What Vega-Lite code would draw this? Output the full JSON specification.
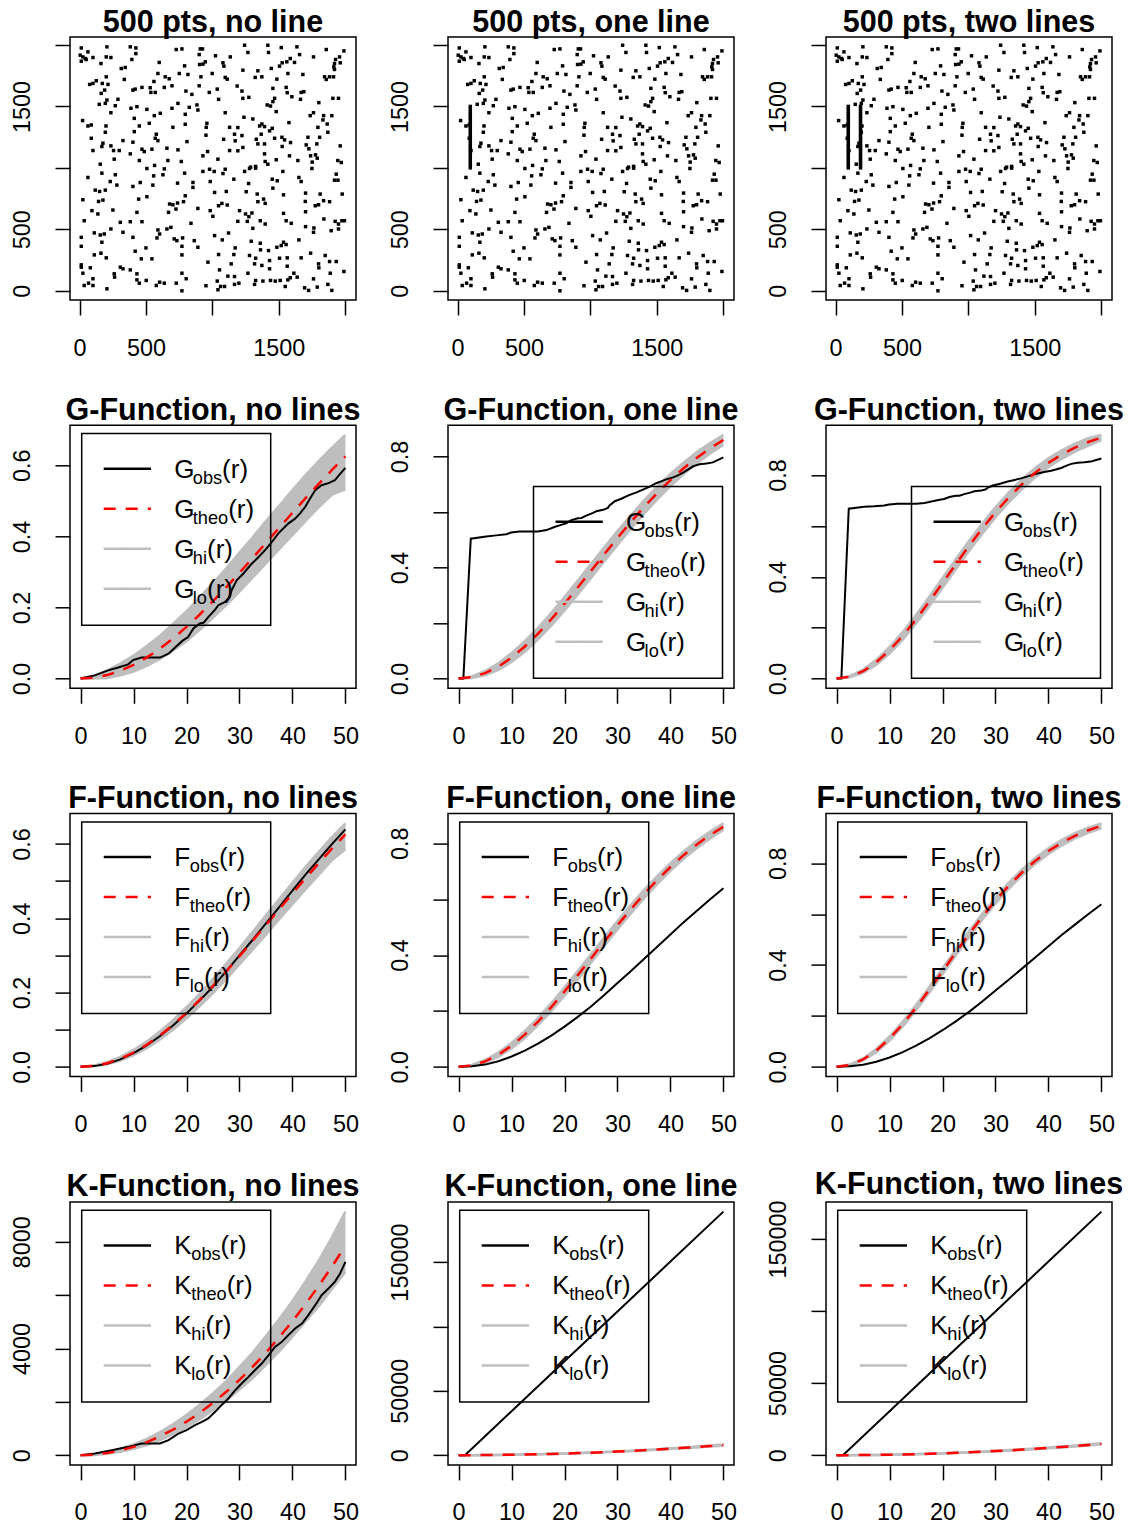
{
"$schema":"https://vega.github.io/schema/vega-lite/v6.json",
"padding":{"left":9,"top":6,"right":5,"bottom":0},
"background":"white",
"config":{
 "view":{"stroke":"black","strokeWidth":1.5},
 "font":"Liberation Sans",
 "axis":{"domain":false,"grid":false,"tickSize":15,"tickColor":"black","tickWidth":1.5,"labelFont":"Liberation Sans","labelFontSize":23.4,"labelColor":"black","labelOverlap":false,"labelFlush":false,"labelBound":false},
 "axisX":{"labelAngle":0,"labelBaseline":"alphabetic","labelAlign":"center","labelPadding":40},
 "axisY":{"labelAngle":-90,"labelBaseline":"alphabetic","labelAlign":"center","labelPadding":26},
 "title":{"font":"Liberation Sans","fontSize":30.5,"fontWeight":"bold","color":"black","anchor":"middle","frame":"group","baseline":"alphabetic","offset":-1},
 "text":{"font":"Liberation Sans","color":"black"}
},
"datasets":{
 "leg":[{"i":0,"k":"obs"},{"i":1,"k":"theo"},{"i":2,"k":"hi"},{"i":3,"k":"lo"}],
 "pts":[
{"x":13,"y":1976},{"x":206,"y":1985},{"x":382,"y":1985},{"x":424,"y":1976},{"x":63,"y":1944},{"x":5,"y":1917},{"x":424,"y":1930},{"x":25,"y":1903},{"x":43,"y":1890},{"x":50,"y":1882},{"x":13,"y":1868},{"x":101,"y":1898},{"x":201,"y":1903},{"x":236,"y":1898},{"x":394,"y":1882},{"x":161,"y":1849},{"x":728,"y":1963},{"x":771,"y":1968},{"x":909,"y":1968},{"x":926,"y":1968},{"x":901,"y":1922},{"x":600,"y":1858},{"x":791,"y":1830},{"x":947,"y":1863},{"x":929,"y":1844},{"x":904,"y":1841},{"x":314,"y":1809},{"x":344,"y":1817},{"x":590,"y":1768},{"x":645,"y":1741},{"x":675,"y":1725},{"x":751,"y":1768},{"x":816,"y":1760},{"x":914,"y":1741},{"x":201,"y":1741},{"x":337,"y":1720},{"x":126,"y":1709},{"x":101,"y":1687},{"x":76,"y":1679},{"x":171,"y":1687},{"x":214,"y":1679},{"x":560,"y":1703},{"x":901,"y":1668},{"x":696,"y":1668},{"x":189,"y":1633},{"x":163,"y":1606},{"x":402,"y":1633},{"x":419,"y":1641},{"x":470,"y":1655},{"x":532,"y":1652},{"x":537,"y":1614},{"x":570,"y":1614},{"x":638,"y":1655},{"x":801,"y":1625},{"x":846,"y":1598},{"x":977,"y":1614},{"x":206,"y":1552},{"x":289,"y":1558},{"x":148,"y":1517},{"x":194,"y":1525},{"x":269,"y":1506},{"x":741,"y":1525},{"x":387,"y":1485},{"x":432,"y":1498},{"x":507,"y":1476},{"x":696,"y":1485},{"x":826,"y":1493},{"x":884,"y":1512},{"x":891,"y":1471},{"x":236,"y":1449},{"x":563,"y":1425},{"x":608,"y":1444},{"x":796,"y":1436},{"x":412,"y":1403},{"x":23,"y":1385},{"x":63,"y":1341},{"x":88,"y":1349},{"x":199,"y":1341},{"x":450,"y":1341},{"x":525,"y":1363},{"x":703,"y":1330},{"x":796,"y":1355},{"x":959,"y":1363},{"x":954,"y":1330},{"x":194,"y":1290},{"x":412,"y":1295},{"x":578,"y":1274},{"x":570,"y":1241},{"x":590,"y":1222},{"x":952,"y":1266},{"x":88,"y":1241},{"x":327,"y":1222},{"x":402,"y":1209},{"x":809,"y":1214},{"x":176,"y":1201},{"x":168,"y":1174},{"x":236,"y":1179},{"x":101,"y":1141},{"x":256,"y":1141},{"x":299,"y":1141},{"x":382,"y":1114},{"x":470,"y":1152},{"x":487,"y":1133},{"x":545,"y":1152},{"x":658,"y":1160},{"x":741,"y":1147},{"x":964,"y":1133},{"x":929,"y":1098},{"x":261,"y":1071},{"x":450,"y":1060},{"x":665,"y":1060},{"x":766,"y":1052},{"x":156,"y":1030},{"x":565,"y":1020},{"x":638,"y":992},
{"x":1243,"y":1998},{"x":1268,"y":1939},{"x":1418,"y":1998},{"x":1423,"y":1939},{"x":1519,"y":1979},{"x":1637,"y":1985},{"x":1657,"y":1922},{"x":1858,"y":1963},{"x":1991,"y":1952},{"x":1024,"y":1912},{"x":1135,"y":1903},{"x":1080,"y":1855},{"x":1087,"y":1828},{"x":999,"y":1768},{"x":1230,"y":1795},{"x":1343,"y":1790},{"x":1444,"y":1809},{"x":1506,"y":1828},{"x":1526,"y":1855},{"x":1561,"y":1863},{"x":1587,"y":1890},{"x":1619,"y":1858},{"x":1486,"y":1722},{"x":1569,"y":1768},{"x":1682,"y":1760},{"x":1762,"y":1903},{"x":1958,"y":1903},{"x":1928,"y":1882},{"x":1920,"y":1849},{"x":1915,"y":1822},{"x":1920,"y":1801},{"x":1963,"y":1855},{"x":1097,"y":1736},{"x":1112,"y":1722},{"x":1323,"y":1736},{"x":1373,"y":1741},{"x":1845,"y":1741},{"x":1858,"y":1720},{"x":1883,"y":1741},{"x":1913,"y":1741},{"x":1037,"y":1641},{"x":1187,"y":1666},{"x":1223,"y":1625},{"x":1456,"y":1647},{"x":1556,"y":1655},{"x":1564,"y":1612},{"x":1599,"y":1579},{"x":1669,"y":1614},{"x":1689,"y":1620},{"x":1664,"y":1558},{"x":1047,"y":1558},{"x":1230,"y":1566},{"x":1275,"y":1574},{"x":1469,"y":1566},{"x":1456,"y":1539},{"x":1438,"y":1503},{"x":1413,"y":1512},{"x":1802,"y":1531},{"x":1908,"y":1566},{"x":1950,"y":1566},{"x":1097,"y":1449},{"x":1238,"y":1412},{"x":1305,"y":1398},{"x":1481,"y":1458},{"x":1737,"y":1425},{"x":1762,"y":1449},{"x":1838,"y":1425},{"x":1900,"y":1425},{"x":1833,"y":1390},{"x":1577,"y":1368},{"x":1130,"y":1330},{"x":1192,"y":1328},{"x":1356,"y":1341},{"x":1373,"y":1357},{"x":1393,"y":1336},{"x":1431,"y":1301},{"x":1451,"y":1322},{"x":1795,"y":1330},{"x":1865,"y":1357},{"x":1167,"y":1274},{"x":1223,"y":1263},{"x":1172,"y":1220},{"x":1368,"y":1274},{"x":1469,"y":1241},{"x":1524,"y":1249},{"x":1544,"y":1228},{"x":1589,"y":1206},{"x":1720,"y":1249},{"x":1808,"y":1249},{"x":1787,"y":1195},{"x":1870,"y":1290},{"x":1085,"y":1233},{"x":1331,"y":1233},{"x":1343,"y":1195},{"x":1393,"y":1195},{"x":1230,"y":1166},{"x":1192,"y":1139},{"x":1130,"y":1141},{"x":1526,"y":1174},{"x":1707,"y":1187},{"x":1727,"y":1155},{"x":1963,"y":1179},{"x":1393,"y":1114},{"x":1581,"y":1098},{"x":1740,"y":1098},{"x":1777,"y":1106},{"x":1790,"y":1079},{"x":1042,"y":1071},{"x":1398,"y":1052},{"x":1418,"y":1030},{"x":1481,"y":1066},{"x":1644,"y":1060},{"x":1752,"y":1047},{"x":1945,"y":1060},{"x":1971,"y":1044},{"x":1288,"y":1006},{"x":1326,"y":1012},
{"x":63,"y":922},{"x":168,"y":957},{"x":269,"y":944},{"x":507,"y":995},{"x":558,"y":935},{"x":628,"y":944},{"x":791,"y":957},{"x":929,"y":971},{"x":979,"y":989},{"x":1014,"y":971},{"x":231,"y":889},{"x":281,"y":860},{"x":402,"y":849},{"x":457,"y":881},{"x":552,"y":860},{"x":738,"y":876},{"x":854,"y":881},{"x":854,"y":841},{"x":984,"y":889},{"x":118,"y":819},{"x":151,"y":808},{"x":194,"y":819},{"x":25,"y":741},{"x":143,"y":727},{"x":176,"y":738},{"x":445,"y":746},{"x":507,"y":765},{"x":796,"y":773},{"x":783,"y":725},{"x":738,"y":714},{"x":678,"y":706},{"x":703,"y":700},{"x":726,"y":665},{"x":93,"y":652},{"x":138,"y":625},{"x":251,"y":657},{"x":432,"y":638},{"x":670,"y":638},{"x":891,"y":670},{"x":984,"y":652},{"x":1004,"y":606},{"x":35,"y":570},{"x":307,"y":557},{"x":382,"y":562},{"x":470,"y":562},{"x":839,"y":549},{"x":236,"y":503},{"x":111,"y":471},{"x":156,"y":454},{"x":186,"y":462},{"x":327,"y":476},{"x":590,"y":495},{"x":603,"y":462},{"x":658,"y":503},{"x":688,"y":516},{"x":13,"y":435},{"x":168,"y":395},{"x":402,"y":435},{"x":583,"y":430},{"x":713,"y":422},{"x":733,"y":408},{"x":776,"y":430},{"x":864,"y":408},{"x":891,"y":354},{"x":13,"y":362},{"x":771,"y":362},{"x":500,"y":349},{"x":419,"y":322},{"x":111,"y":292},{"x":161,"y":306},{"x":201,"y":268},{"x":465,"y":260},{"x":545,"y":260},{"x":771,"y":292},{"x":967,"y":233},{"x":13,"y":211},{"x":13,"y":192},{"x":81,"y":187},{"x":307,"y":192},{"x":327,"y":179},{"x":382,"y":170},{"x":25,"y":143},{"x":261,"y":138},{"x":264,"y":111},{"x":432,"y":138},{"x":771,"y":143},{"x":101,"y":98},{"x":68,"y":62},{"x":101,"y":43},{"x":35,"y":43},{"x":432,"y":89},{"x":450,"y":62},{"x":502,"y":84},{"x":578,"y":43},{"x":603,"y":70},{"x":638,"y":62},{"x":728,"y":62},{"x":803,"y":98},{"x":206,"y":16},{"x":952,"y":41},{"x":771,"y":0},
{"x":1080,"y":954},{"x":1097,"y":989},{"x":1243,"y":971},{"x":1280,"y":995},{"x":1326,"y":998},{"x":1531,"y":971},{"x":1750,"y":995},{"x":1162,"y":908},{"x":1273,"y":873},{"x":1451,"y":908},{"x":1489,"y":895},{"x":1652,"y":922},{"x":1669,"y":889},{"x":1933,"y":949},{"x":1920,"y":900},{"x":1946,"y":900},{"x":1456,"y":835},{"x":1017,"y":800},{"x":1105,"y":808},{"x":1255,"y":806},{"x":1338,"y":787},{"x":1536,"y":781},{"x":1702,"y":795},{"x":1812,"y":787},{"x":1978,"y":787},{"x":1047,"y":692},{"x":1072,"y":711},{"x":1112,"y":698},{"x":1386,"y":746},{"x":1343,"y":725},{"x":1398,"y":711},{"x":1700,"y":727},{"x":1775,"y":692},{"x":1800,"y":700},{"x":1838,"y":733},{"x":1883,"y":725},{"x":1205,"y":652},{"x":1250,"y":625},{"x":1275,"y":603},{"x":1298,"y":633},{"x":1536,"y":630},{"x":1702,"y":643},{"x":1192,"y":565},{"x":1263,"y":565},{"x":1361,"y":570},{"x":1398,"y":543},{"x":1556,"y":570},{"x":1594,"y":549},{"x":1840,"y":584},{"x":1925,"y":565},{"x":1950,"y":543},{"x":1976,"y":570},{"x":1995,"y":570},{"x":1305,"y":508},{"x":1702,"y":522},{"x":1765,"y":511},{"x":1762,"y":476},{"x":1895,"y":489},{"x":1950,"y":503},{"x":1017,"y":449},{"x":1122,"y":470},{"x":1075,"y":414},{"x":1293,"y":403},{"x":1361,"y":387},{"x":1536,"y":395},{"x":1652,"y":414},{"x":1172,"y":349},{"x":1363,"y":333},{"x":1423,"y":327},{"x":1486,"y":354},{"x":1519,"y":368},{"x":1556,"y":376},{"x":1740,"y":306},{"x":1850,"y":287},{"x":1047,"y":295},{"x":1162,"y":295},{"x":1280,"y":287},{"x":1326,"y":265},{"x":1431,"y":246},{"x":1506,"y":265},{"x":1564,"y":268},{"x":1669,"y":268},{"x":1142,"y":219},{"x":1318,"y":219},{"x":1373,"y":206},{"x":1564,"y":200},{"x":1800,"y":219},{"x":1883,"y":238},{"x":1933,"y":238},{"x":1054,"y":170},{"x":1431,"y":179},{"x":1802,"y":187},{"x":1888,"y":143},{"x":1991,"y":157},{"x":1117,"y":119},{"x":1167,"y":116},{"x":1268,"y":143},{"x":1614,"y":143},{"x":1587,"y":106},{"x":1639,"y":111},{"x":1762,"y":97},{"x":1037,"y":79},{"x":1200,"y":62},{"x":1326,"y":84},{"x":1318,"y":52},{"x":1381,"y":79},{"x":1438,"y":84},{"x":1474,"y":79},{"x":1511,"y":84},{"x":1569,"y":89},{"x":1062,"y":35},{"x":1092,"y":35},{"x":1167,"y":52},{"x":1549,"y":35},{"x":1695,"y":24},{"x":1725,"y":3},{"x":1790,"y":30},{"x":1870,"y":52},{"x":1900,"y":3},{"x":1042,"y":8}
 ],
 "ln1":[{"x":96,"y":1000},{"x":96,"y":1020},{"x":96,"y":1040},{"x":96,"y":1060},{"x":96,"y":1080},{"x":96,"y":1100},{"x":96,"y":1120},{"x":96,"y":1140},{"x":96,"y":1160},{"x":96,"y":1180},{"x":96,"y":1200},{"x":96,"y":1220},{"x":96,"y":1240},{"x":96,"y":1260},{"x":96,"y":1280},{"x":96,"y":1300},{"x":96,"y":1320},{"x":96,"y":1340},{"x":96,"y":1360},{"x":96,"y":1380},{"x":96,"y":1400},{"x":96,"y":1420},{"x":96,"y":1440},{"x":96,"y":1460},{"x":96,"y":1480},{"x":96,"y":1500}],
 "ln2":[{"x":188,"y":1000},{"x":188,"y":1020},{"x":188,"y":1040},{"x":188,"y":1060},{"x":188,"y":1080},{"x":188,"y":1100},{"x":188,"y":1120},{"x":188,"y":1140},{"x":188,"y":1160},{"x":188,"y":1180},{"x":188,"y":1200},{"x":188,"y":1220},{"x":188,"y":1240},{"x":188,"y":1260},{"x":188,"y":1280},{"x":188,"y":1300},{"x":188,"y":1320},{"x":188,"y":1340},{"x":188,"y":1360},{"x":188,"y":1380},{"x":188,"y":1400},{"x":188,"y":1420},{"x":188,"y":1440},{"x":188,"y":1460},{"x":188,"y":1480},{"x":188,"y":1500}],
 "env":[
{"r":0,"t1":0,"t2":0,"t3":0,"kt":0,"g1h":0,"g1l":0,"g2h":0,"g2l":0,"g3h":0,"g3l":0,"f1h":0,"f1l":0,"f2h":0,"f2l":0,"f3h":0,"f3l":0,"k1h":0,"k1l":0,"k2h":0,"k2l":0,"fo":0},
{"r":2.5,"t1":0.00245,"t2":0.00489,"t3":0.00733,"kt":19.6,"g1h":0.0085,"g1l":0,"g2h":0.0079,"g2l":0.0019,"g3h":0.0097,"g3l":0.0049,"f1h":0.0035,"f1l":0.0015,"f2h":0.0069,"f2l":0.0029,"f3h":0.0089,"f3l":0.0057,"k1h":29.4,"k1l":10.8,"k2h":20.8,"k2l":18.4,"fo":0.002},
{"r":5,"t1":0.00977,"t2":0.01944,"t3":0.02903,"kt":78.5,"g1h":0.0228,"g1l":0.0018,"g2h":0.0274,"g2l":0.0114,"g3h":0.0354,"g3l":0.0226,"f1h":0.0128,"f1l":0.0068,"f2h":0.0244,"f2l":0.0144,"f3h":0.033,"f3l":0.025,"k1h":110,"k1l":51,"k2h":83.2,"k2l":73.8,"fo":0.008},
{"r":7.5,"t1":0.02185,"t2":0.04322,"t3":0.06412,"kt":176.7,"g1h":0.0419,"g1l":0.0089,"g2h":0.0552,"g2l":0.0312,"g3h":0.0737,"g3l":0.0545,"f1h":0.0269,"f1l":0.0169,"f2h":0.0512,"f2l":0.0352,"f3h":0.0705,"f3l":0.0577,"k1h":233,"k1l":127,"k2h":187.3,"k2l":166.1,"fo":0.02},
{"r":10,"t1":0.03851,"t2":0.07554,"t3":0.1112,"kt":314.2,"g1h":0.0645,"g1l":0.0195,"g2h":0.0915,"g2l":0.0595,"g3h":0.124,"g3l":0.0984,"f1h":0.0455,"f1l":0.0315,"f2h":0.0855,"f2l":0.0655,"f3h":0.1192,"f3l":0.1032,"k1h":402,"k1l":236,"k2h":333,"k2l":295.3,"fo":0.037},
{"r":12.5,"t1":0.05952,"t2":0.1155,"t3":0.16815,"kt":490.9,"g1h":0.0915,"g1l":0.0355,"g2h":0.1345,"g2l":0.0965,"g3h":0.1834,"g3l":0.153,"f1h":0.0685,"f1l":0.0505,"f2h":0.1275,"f2l":0.1035,"f3h":0.1778,"f3l":0.1585,"k1h":614,"k1l":383,"k2h":520.4,"k2l":461.4,"fo":0.058},
{"r":15,"t1":0.08457,"t2":0.16199,"t3":0.23286,"kt":706.9,"g1h":0.1206,"g1l":0.0556,"g2h":0.183,"g2l":0.141,"g3h":0.2497,"g3l":0.2161,"f1h":0.0956,"f1l":0.0736,"f2h":0.175,"f2l":0.149,"f3h":0.2433,"f3l":0.2225,"k1h":869,"k1l":566,"k2h":749.3,"k2l":664.5,"fo":0.083},
{"r":17.5,"t1":0.11331,"t2":0.21378,"t3":0.30287,"kt":962.1,"g1h":0.1543,"g1l":0.0793,"g2h":0.2368,"g2l":0.1908,"g3h":0.3213,"g3l":0.2845,"f1h":0.1263,"f1l":0.1003,"f2h":0.2278,"f2l":0.1998,"f3h":0.3141,"f3l":0.2917,"k1h":1164,"k1l":789,"k2h":1019.8,"k2l":904.4,"fo":0.112},
{"r":20,"t1":0.14536,"t2":0.26959,"t3":0.37578,"kt":1256.6,"g1h":0.1894,"g1l":0.1054,"g2h":0.2936,"g2l":0.2456,"g3h":0.395,"g3l":0.3566,"f1h":0.1604,"f1l":0.1304,"f2h":0.2846,"f2l":0.2546,"f3h":0.3878,"f3l":0.3638,"k1h":1508,"k1l":1056,"k2h":1332,"k2l":1181.2,"fo":0.144},
{"r":22.5,"t1":0.18029,"t2":0.32808,"t3":0.44922,"kt":1590.4,"g1h":0.2293,"g1l":0.1373,"g2h":0.3531,"g2l":0.3031,"g3h":0.4692,"g3l":0.4292,"f1h":0.1973,"f1l":0.1633,"f2h":0.3431,"f2l":0.3131,"f3h":0.4612,"f3l":0.4372,"k1h":1893,"k1l":1352,"k2h":1685.8,"k2l":1495,"fo":0.179},
{"r":25,"t1":0.21766,"t2":0.38794,"t3":0.52116,"kt":1963.5,"g1h":0.2687,"g1l":0.1717,"g2h":0.4129,"g2l":0.3629,"g3h":0.5412,"g3l":0.5012,"f1h":0.2367,"f1l":0.1987,"f2h":0.4029,"f2l":0.3729,"f3h":0.5332,"f3l":0.5092,"k1h":2317,"k1l":1689,"k2h":2081.3,"k2l":1845.7,"fo":0.216},
{"r":27.5,"t1":0.25695,"t2":0.44788,"t3":0.58978,"kt":2375.8,"g1h":0.31,"g1l":0.207,"g2h":0.4729,"g2l":0.4229,"g3h":0.6098,"g3l":0.5698,"f1h":0.278,"f1l":0.236,"f2h":0.4629,"f2l":0.4329,"f3h":0.6018,"f3l":0.5778,"k1h":2780,"k1l":2043,"k2h":2518.3,"k2l":2233.3,"fo":0.257},
{"r":30,"t1":0.29773,"t2":0.50682,"t3":0.65367,"kt":2827.4,"g1h":0.3547,"g1l":0.2447,"g2h":0.5318,"g2l":0.4818,"g3h":0.6737,"g3l":0.6337,"f1h":0.3197,"f1l":0.2757,"f2h":0.5218,"f2l":0.4918,"f3h":0.6657,"f3l":0.6417,"k1h":3308,"k1l":2460,"k2h":2997,"k2l":2657.8,"fo":0.3},
{"r":32.5,"t1":0.33949,"t2":0.56373,"t3":0.71184,"kt":3318.3,"g1h":0.3975,"g1l":0.2845,"g2h":0.5877,"g2l":0.5397,"g3h":0.731,"g3l":0.6926,"f1h":0.3635,"f1l":0.3155,"f2h":0.5787,"f2l":0.5487,"f3h":0.7238,"f3l":0.6998,"k1h":3849,"k1l":2887,"k2h":3517.4,"k2l":3119.2,"fo":0.342},
{"r":35,"t1":0.38189,"t2":0.61794,"t3":0.76378,"kt":3848.5,"g1h":0.4429,"g1l":0.3239,"g2h":0.6419,"g2l":0.5939,"g3h":0.783,"g3l":0.7446,"f1h":0.4079,"f1l":0.3559,"f2h":0.6329,"f2l":0.6029,"f3h":0.7758,"f3l":0.7518,"k1h":4464,"k1l":3387,"k2h":4079.4,"k2l":3617.6,"fo":0.386},
{"r":37.5,"t1":0.42434,"t2":0.66862,"t3":0.80924,"kt":4417.9,"g1h":0.4863,"g1l":0.3643,"g2h":0.6916,"g2l":0.6456,"g3h":0.8276,"g3l":0.7908,"f1h":0.4513,"f1l":0.3973,"f2h":0.6831,"f2l":0.6541,"f3h":0.8212,"f3l":0.7972,"k1h":5103,"k1l":3888,"k2h":4683,"k2l":4152.8,"fo":0.43},
{"r":40,"t1":0.46651,"t2":0.71539,"t3":0.84814,"kt":5026.5,"g1h":0.5305,"g1l":0.4035,"g2h":0.7374,"g2l":0.6934,"g3h":0.8657,"g3l":0.8305,"f1h":0.4955,"f1l":0.4375,"f2h":0.7294,"f2l":0.7014,"f3h":0.8594,"f3l":0.8369,"k1h":5780,"k1l":4448,"k2h":5328.1,"k2l":4724.9,"fo":0.474},
{"r":42.5,"t1":0.50801,"t2":0.75795,"t3":0.88075,"kt":5674.5,"g1h":0.573,"g1l":0.444,"g2h":0.779,"g2l":0.737,"g3h":0.8976,"g3l":0.864,"f1h":0.538,"f1l":0.478,"f2h":0.7714,"f2l":0.7446,"f3h":0.8918,"f3l":0.8697,"k1h":6526,"k1l":5022,"k2h":6015,"k2l":5334,"fo":0.518},
{"r":45,"t1":0.54851,"t2":0.79616,"t3":0.90797,"kt":6361.7,"g1h":0.6125,"g1l":0.4825,"g2h":0.8162,"g2l":0.7762,"g3h":0.924,"g3l":0.892,"f1h":0.5795,"f1l":0.5175,"f2h":0.8092,"f2l":0.7832,"f3h":0.9184,"f3l":0.8976,"k1h":7316,"k1l":5598,"k2h":6743.4,"k2l":5980,"fo":0.559},
{"r":47.5,"t1":0.58773,"t2":0.83003,"t3":0.92993,"kt":7088.2,"g1h":0.6507,"g1l":0.5177,"g2h":0.849,"g2l":0.811,"g3h":0.9451,"g3l":0.9147,"f1h":0.6187,"f1l":0.5567,"f2h":0.8425,"f2l":0.8175,"f3h":0.9401,"f3l":0.9198,"k1h":8187,"k1l":6238,"k2h":7513.5,"k2l":6662.9,"fo":0.6},
{"r":50,"t1":0.62534,"t2":0.85963,"t3":0.94741,"kt":7854,"g1h":0.6853,"g1l":0.5323,"g2h":0.8776,"g2l":0.8416,"g3h":0.9574,"g3l":0.9374,"f1h":0.6553,"f1l":0.5853,"f2h":0.8716,"f2l":0.8476,"f3h":0.957,"f3l":0.9378,"k1h":9134,"k1l":6872,"k2h":8325.2,"k2l":7382.8,"fo":0.639}
 ],
 "g1o":[{"r":0,"v":0},{"r":2.7,"v":0.009},{"r":5.2,"v":0.023},{"r":7.1,"v":0.031},{"r":9,"v":0.04},{"r":9.9,"v":0.052},{"r":11.5,"v":0.059},{"r":15,"v":0.059},{"r":16.6,"v":0.07},{"r":18.1,"v":0.091},{"r":19.2,"v":0.106},{"r":20.3,"v":0.117},{"r":21.3,"v":0.141},{"r":22.5,"v":0.155},{"r":23.2,"v":0.157},{"r":24.1,"v":0.173},{"r":25.4,"v":0.194},{"r":26,"v":0.206},{"r":27.3,"v":0.216},{"r":28.2,"v":0.23},{"r":28.5,"v":0.248},{"r":29.5,"v":0.277},{"r":30.7,"v":0.295},{"r":32.3,"v":0.323},{"r":33.6,"v":0.342},{"r":34.8,"v":0.361},{"r":36.1,"v":0.384},{"r":37.3,"v":0.408},{"r":39.2,"v":0.436},{"r":40.5,"v":0.45},{"r":41.4,"v":0.464},{"r":42.4,"v":0.483},{"r":43.3,"v":0.506},{"r":44.3,"v":0.53},{"r":45.5,"v":0.544},{"r":46.8,"v":0.55},{"r":48,"v":0.558},{"r":49,"v":0.576},{"r":50,"v":0.593}],
 "g2o":[{"r":0,"v":0},{"r":0.9,"v":0},{"r":2.3,"v":0.504},{"r":5.2,"v":0.512},{"r":7.1,"v":0.516},{"r":9,"v":0.52},{"r":9.9,"v":0.526},{"r":11.5,"v":0.53},{"r":15,"v":0.53},{"r":16.6,"v":0.535},{"r":18.1,"v":0.546},{"r":19.2,"v":0.553},{"r":20.3,"v":0.559},{"r":21.3,"v":0.571},{"r":22.5,"v":0.578},{"r":23.2,"v":0.579},{"r":24.1,"v":0.587},{"r":25.4,"v":0.597},{"r":26,"v":0.603},{"r":27.3,"v":0.608},{"r":28.2,"v":0.615},{"r":28.5,"v":0.624},{"r":29.5,"v":0.639},{"r":30.7,"v":0.648},{"r":32.3,"v":0.662},{"r":33.6,"v":0.671},{"r":34.8,"v":0.681},{"r":36.1,"v":0.692},{"r":37.3,"v":0.704},{"r":39.2,"v":0.718},{"r":40.5,"v":0.725},{"r":41.4,"v":0.732},{"r":42.4,"v":0.742},{"r":43.3,"v":0.753},{"r":44.3,"v":0.765},{"r":45.5,"v":0.772},{"r":46.8,"v":0.775},{"r":48,"v":0.779},{"r":49,"v":0.788},{"r":50,"v":0.797}],
 "g3o":[{"r":0,"v":0},{"r":0.9,"v":0},{"r":2.3,"v":0.668},{"r":5.2,"v":0.675},{"r":7.1,"v":0.677},{"r":9,"v":0.68},{"r":9.9,"v":0.684},{"r":11.5,"v":0.687},{"r":15,"v":0.687},{"r":16.6,"v":0.69},{"r":18.1,"v":0.697},{"r":19.2,"v":0.702},{"r":20.3,"v":0.706},{"r":21.3,"v":0.714},{"r":22.5,"v":0.719},{"r":23.2,"v":0.719},{"r":24.1,"v":0.725},{"r":25.4,"v":0.732},{"r":26,"v":0.736},{"r":27.3,"v":0.739},{"r":28.2,"v":0.744},{"r":28.5,"v":0.75},{"r":29.5,"v":0.759},{"r":30.7,"v":0.765},{"r":32.3,"v":0.775},{"r":33.6,"v":0.781},{"r":34.8,"v":0.787},{"r":36.1,"v":0.795},{"r":37.3,"v":0.803},{"r":39.2,"v":0.812},{"r":40.5,"v":0.817},{"r":41.4,"v":0.822},{"r":42.4,"v":0.828},{"r":43.3,"v":0.836},{"r":44.3,"v":0.844},{"r":45.5,"v":0.848},{"r":46.8,"v":0.85},{"r":48,"v":0.853},{"r":49,"v":0.859},{"r":50,"v":0.865}],
 "k1o":[{"r":0,"v":0},{"r":2.7,"v":62},{"r":5.9,"v":187},{"r":9,"v":312},{"r":11.5,"v":437},{"r":15,"v":437},{"r":16.6,"v":562},{"r":18.5,"v":812},{"r":20,"v":937},{"r":21.6,"v":1125},{"r":22.9,"v":1250},{"r":24.1,"v":1375},{"r":25.4,"v":1625},{"r":26.6,"v":1875},{"r":27.9,"v":2125},{"r":29.2,"v":2437},{"r":30.4,"v":2687},{"r":31.7,"v":2937},{"r":32.9,"v":3187},{"r":34.2,"v":3437},{"r":35.5,"v":3750},{"r":36.7,"v":4062},{"r":38,"v":4250},{"r":39.2,"v":4500},{"r":40.5,"v":4750},{"r":41.8,"v":4937},{"r":43,"v":5250},{"r":44.3,"v":5625},{"r":45.5,"v":6000},{"r":46.8,"v":6250},{"r":48,"v":6500},{"r":49,"v":6812},{"r":50,"v":7250}],
 "k2o":[{"r":0,"v":0},{"r":1.2,"v":0},{"r":10,"v":34118},{"r":20,"v":72890},{"r":30,"v":111660},{"r":40,"v":150430},{"r":50,"v":189200}],
 "k3o":[{"r":0,"v":0},{"r":1.2,"v":0},{"r":10,"v":30475},{"r":20,"v":65105},{"r":30,"v":99735},{"r":40,"v":134365},{"r":50,"v":169000}]
},
"columns":3,
"spacing":{"row":125.3,"column":92},
"bounds":"flush",
"concat":[
{"width":286,"height":263,"title":"500 pts, no line","layer":[
 {"data":{"name":"pts"},"mark":{"type":"square","size":12,"color":"black","opacity":1},"encoding":{"x":{"field":"x","type":"quantitative","title":null,"scale":{"domain":[-72,2082],"nice":false,"zero":false},"axis":{"values":[0,500,1000,1500,2000],"format":"d","labelExpr":"datum.value==1000||datum.value==2000?'':datum.label"}},"y":{"field":"y","type":"quantitative","title":null,"scale":{"domain":[-75,2065],"nice":false,"zero":false},"axis":{"values":[0,500,1000,1500,2000],"format":"d","labelExpr":"datum.value==1000||datum.value==2000?'':datum.label"}}}}
]},
{"width":286,"height":263,"title":"500 pts, one line","layer":[
 {"data":{"name":"pts"},"mark":{"type":"square","size":12,"color":"black","opacity":1},"encoding":{"x":{"field":"x","type":"quantitative","title":null,"scale":{"domain":[-72,2082],"nice":false,"zero":false},"axis":{"values":[0,500,1000,1500,2000],"format":"d","labelExpr":"datum.value==1000||datum.value==2000?'':datum.label"}},"y":{"field":"y","type":"quantitative","title":null,"scale":{"domain":[-75,2065],"nice":false,"zero":false},"axis":{"values":[0,500,1000,1500,2000],"format":"d","labelExpr":"datum.value==1000||datum.value==2000?'':datum.label"}}}},
 {"data":{"name":"ln1"},"mark":{"type":"square","size":12,"color":"black","opacity":1},"encoding":{"x":{"field":"x","type":"quantitative","title":null},"y":{"field":"y","type":"quantitative","title":null}}}
]},
{"width":286,"height":263,"title":"500 pts, two lines","layer":[
 {"data":{"name":"pts"},"mark":{"type":"square","size":12,"color":"black","opacity":1},"encoding":{"x":{"field":"x","type":"quantitative","title":null,"scale":{"domain":[-72,2082],"nice":false,"zero":false},"axis":{"values":[0,500,1000,1500,2000],"format":"d","labelExpr":"datum.value==1000||datum.value==2000?'':datum.label"}},"y":{"field":"y","type":"quantitative","title":null,"scale":{"domain":[-75,2065],"nice":false,"zero":false},"axis":{"values":[0,500,1000,1500,2000],"format":"d","labelExpr":"datum.value==1000||datum.value==2000?'':datum.label"}}}},
 {"data":{"name":"ln1"},"mark":{"type":"square","size":12,"color":"black","opacity":1},"encoding":{"x":{"field":"x","type":"quantitative","title":null},"y":{"field":"y","type":"quantitative","title":null}}},
 {"data":{"name":"ln2"},"mark":{"type":"square","size":12,"color":"black","opacity":1},"encoding":{"x":{"field":"x","type":"quantitative","title":null},"y":{"field":"y","type":"quantitative","title":null}}}
]},

{"width":286,"height":263,"title":"G-Function, no lines","resolve":{"scale":{"x":"independent","y":"independent"}},"layer":[
 {"encoding":{"x":{"field":"r","type":"quantitative","title":null,"scale":{"domain":[-2,52],"nice":false,"zero":false},"axis":{"values":[0,10,20,30,40,50]}}},"layer":[
  {"data":{"name":"env"},"mark":{"type":"area","color":"#bebebe","opacity":1},"encoding":{"y":{"field":"g1l","type":"quantitative","title":null,"scale":{"domain":[-0.0274,0.7127],"nice":false,"zero":false},"axis":{"values":[0,0.1,0.2,0.3,0.4,0.5,0.6,0.7],"format":".1f","labelExpr":"indexof(['0.0','0.2','0.4','0.6'],datum.label)>=0?datum.label:''"}},"y2":{"field":"g1h"}}},
  {"data":{"name":"env"},"mark":{"type":"line","color":"#bebebe","strokeWidth":2.5},"encoding":{"y":{"field":"g1h","type":"quantitative","title":null}}},
  {"data":{"name":"env"},"mark":{"type":"line","color":"#bebebe","strokeWidth":2.5},"encoding":{"y":{"field":"g1l","type":"quantitative","title":null}}},
  {"data":{"name":"g1o"},"mark":{"type":"line","color":"black","strokeWidth":2},"encoding":{"y":{"field":"v","type":"quantitative","title":null}}},
  {"data":{"name":"env"},"mark":{"type":"line","color":"red","strokeWidth":2.5,"strokeDash":[12,10]},"encoding":{"y":{"field":"t1","type":"quantitative","title":null}}}
 ]},
 {"data":{"name":"leg"},"layer":[
  {"data":{"values":[{"b":1}]},"mark":{"type":"rect","filled":false,"color":"black","strokeWidth":1.5},"encoding":{"x":{"datum":0,"type":"quantitative","scale":{"domain":[-0.0619,1.4513],"nice":false,"zero":false},"axis":null},"x2":{"datum":1},"y":{"datum":-0.88,"type":"quantitative","scale":{"domain":[-1.0875,5.4875],"nice":false,"zero":false,"reverse":true},"axis":null},"y2":{"datum":3.9125}}},
  {"mark":{"type":"rule","strokeWidth":2.5},"encoding":{"x":{"datum":0.1164,"type":"quantitative"},"x2":{"datum":0.3667},"y":{"field":"i","type":"quantitative"},"color":{"field":"k","type":"nominal","scale":{"domain":["obs","theo","hi","lo"],"range":["black","red","#bebebe","#bebebe"]},"legend":null},"strokeDash":{"field":"k","type":"nominal","scale":{"domain":["obs","theo","hi","lo"],"range":[[1,0],[12,10],[1,0],[1,0]]},"legend":null}}},
  {"mark":{"type":"text","align":"left","baseline":"alphabetic","dy":9,"fontSize":26},"encoding":{"x":{"datum":0.49,"type":"quantitative"},"y":{"field":"i","type":"quantitative"},"text":{"value":"G"}}},
  {"mark":{"type":"text","align":"left","baseline":"alphabetic","dx":18.5,"dy":15,"fontSize":18.2},"encoding":{"x":{"datum":0.49,"type":"quantitative"},"y":{"field":"i","type":"quantitative"},"text":{"field":"k"}}},
  {"transform":[{"filter":"datum.k=='obs'"}],"mark":{"type":"text","align":"left","baseline":"alphabetic","dx":47.8,"dy":9,"fontSize":26},"encoding":{"x":{"datum":0.49,"type":"quantitative"},"y":{"field":"i","type":"quantitative"},"text":{"value":"(r)"}}},
  {"transform":[{"filter":"datum.k=='theo'"}],"mark":{"type":"text","align":"left","baseline":"alphabetic","dx":53.9,"dy":9,"fontSize":26},"encoding":{"x":{"datum":0.49,"type":"quantitative"},"y":{"field":"i","type":"quantitative"},"text":{"value":"(r)"}}},
  {"transform":[{"filter":"datum.k=='hi'||datum.k=='lo'"}],"mark":{"type":"text","align":"left","baseline":"alphabetic","dx":32.7,"dy":9,"fontSize":26},"encoding":{"x":{"datum":0.49,"type":"quantitative"},"y":{"field":"i","type":"quantitative"},"text":{"value":"(r)"}}}
 ]}
]},

{"width":286,"height":263,"title":"G-Function, one line","resolve":{"scale":{"x":"independent","y":"independent"}},"layer":[
 {"encoding":{"x":{"field":"r","type":"quantitative","title":null,"scale":{"domain":[-2,52],"nice":false,"zero":false},"axis":{"values":[0,10,20,30,40,50]}}},"layer":[
  {"data":{"name":"env"},"mark":{"type":"area","color":"#bebebe","opacity":1},"encoding":{"y":{"field":"g2l","type":"quantitative","title":null,"scale":{"domain":[-0.0351,0.9127],"nice":false,"zero":false},"axis":{"values":[0,0.2,0.4,0.6,0.8],"format":".1f","labelExpr":"indexof(['0.0','0.4','0.8'],datum.label)>=0?datum.label:''"}},"y2":{"field":"g2h"}}},
  {"data":{"name":"env"},"mark":{"type":"line","color":"#bebebe","strokeWidth":2.5},"encoding":{"y":{"field":"g2h","type":"quantitative","title":null}}},
  {"data":{"name":"env"},"mark":{"type":"line","color":"#bebebe","strokeWidth":2.5},"encoding":{"y":{"field":"g2l","type":"quantitative","title":null}}},
  {"data":{"name":"g2o"},"mark":{"type":"line","color":"black","strokeWidth":2},"encoding":{"y":{"field":"v","type":"quantitative","title":null}}},
  {"data":{"name":"env"},"mark":{"type":"line","color":"red","strokeWidth":2.5,"strokeDash":[12,10]},"encoding":{"y":{"field":"t2","type":"quantitative","title":null}}}
 ]},
 {"data":{"name":"leg"},"layer":[
  {"data":{"values":[{"b":1}]},"mark":{"type":"rect","filled":false,"color":"black","strokeWidth":1.5},"encoding":{"x":{"datum":0,"type":"quantitative","scale":{"domain":[-0.4524,1.0608],"nice":false,"zero":false},"axis":null},"x2":{"datum":1},"y":{"datum":-0.88,"type":"quantitative","scale":{"domain":[-2.4125,4.1625],"nice":false,"zero":false,"reverse":true},"axis":null},"y2":{"datum":3.9125}}},
  {"mark":{"type":"rule","strokeWidth":2.5},"encoding":{"x":{"datum":0.1164,"type":"quantitative"},"x2":{"datum":0.3667},"y":{"field":"i","type":"quantitative"},"color":{"field":"k","type":"nominal","scale":{"domain":["obs","theo","hi","lo"],"range":["black","red","#bebebe","#bebebe"]},"legend":null},"strokeDash":{"field":"k","type":"nominal","scale":{"domain":["obs","theo","hi","lo"],"range":[[1,0],[12,10],[1,0],[1,0]]},"legend":null}}},
  {"mark":{"type":"text","align":"left","baseline":"alphabetic","dy":9,"fontSize":26},"encoding":{"x":{"datum":0.49,"type":"quantitative"},"y":{"field":"i","type":"quantitative"},"text":{"value":"G"}}},
  {"mark":{"type":"text","align":"left","baseline":"alphabetic","dx":18.5,"dy":15,"fontSize":18.2},"encoding":{"x":{"datum":0.49,"type":"quantitative"},"y":{"field":"i","type":"quantitative"},"text":{"field":"k"}}},
  {"transform":[{"filter":"datum.k=='obs'"}],"mark":{"type":"text","align":"left","baseline":"alphabetic","dx":47.8,"dy":9,"fontSize":26},"encoding":{"x":{"datum":0.49,"type":"quantitative"},"y":{"field":"i","type":"quantitative"},"text":{"value":"(r)"}}},
  {"transform":[{"filter":"datum.k=='theo'"}],"mark":{"type":"text","align":"left","baseline":"alphabetic","dx":53.9,"dy":9,"fontSize":26},"encoding":{"x":{"datum":0.49,"type":"quantitative"},"y":{"field":"i","type":"quantitative"},"text":{"value":"(r)"}}},
  {"transform":[{"filter":"datum.k=='hi'||datum.k=='lo'"}],"mark":{"type":"text","align":"left","baseline":"alphabetic","dx":32.7,"dy":9,"fontSize":26},"encoding":{"x":{"datum":0.49,"type":"quantitative"},"y":{"field":"i","type":"quantitative"},"text":{"value":"(r)"}}}
 ]}
]},

{"width":286,"height":263,"title":"G-Function, two lines","resolve":{"scale":{"x":"independent","y":"independent"}},"layer":[
 {"encoding":{"x":{"field":"r","type":"quantitative","title":null,"scale":{"domain":[-2,52],"nice":false,"zero":false},"axis":{"values":[0,10,20,30,40,50]}}},"layer":[
  {"data":{"name":"env"},"mark":{"type":"area","color":"#bebebe","opacity":1},"encoding":{"y":{"field":"g3l","type":"quantitative","title":null,"scale":{"domain":[-0.0383,0.9957],"nice":false,"zero":false},"axis":{"values":[0,0.2,0.4,0.6,0.8],"format":".1f","labelExpr":"indexof(['0.0','0.4','0.8'],datum.label)>=0?datum.label:''"}},"y2":{"field":"g3h"}}},
  {"data":{"name":"env"},"mark":{"type":"line","color":"#bebebe","strokeWidth":2.5},"encoding":{"y":{"field":"g3h","type":"quantitative","title":null}}},
  {"data":{"name":"env"},"mark":{"type":"line","color":"#bebebe","strokeWidth":2.5},"encoding":{"y":{"field":"g3l","type":"quantitative","title":null}}},
  {"data":{"name":"g3o"},"mark":{"type":"line","color":"black","strokeWidth":2},"encoding":{"y":{"field":"v","type":"quantitative","title":null}}},
  {"data":{"name":"env"},"mark":{"type":"line","color":"red","strokeWidth":2.5,"strokeDash":[12,10]},"encoding":{"y":{"field":"t3","type":"quantitative","title":null}}}
 ]},
 {"data":{"name":"leg"},"layer":[
  {"data":{"values":[{"b":1}]},"mark":{"type":"rect","filled":false,"color":"black","strokeWidth":1.5},"encoding":{"x":{"datum":0,"type":"quantitative","scale":{"domain":[-0.4524,1.0608],"nice":false,"zero":false},"axis":null},"x2":{"datum":1},"y":{"datum":-0.88,"type":"quantitative","scale":{"domain":[-2.4125,4.1625],"nice":false,"zero":false,"reverse":true},"axis":null},"y2":{"datum":3.9125}}},
  {"mark":{"type":"rule","strokeWidth":2.5},"encoding":{"x":{"datum":0.1164,"type":"quantitative"},"x2":{"datum":0.3667},"y":{"field":"i","type":"quantitative"},"color":{"field":"k","type":"nominal","scale":{"domain":["obs","theo","hi","lo"],"range":["black","red","#bebebe","#bebebe"]},"legend":null},"strokeDash":{"field":"k","type":"nominal","scale":{"domain":["obs","theo","hi","lo"],"range":[[1,0],[12,10],[1,0],[1,0]]},"legend":null}}},
  {"mark":{"type":"text","align":"left","baseline":"alphabetic","dy":9,"fontSize":26},"encoding":{"x":{"datum":0.49,"type":"quantitative"},"y":{"field":"i","type":"quantitative"},"text":{"value":"G"}}},
  {"mark":{"type":"text","align":"left","baseline":"alphabetic","dx":18.5,"dy":15,"fontSize":18.2},"encoding":{"x":{"datum":0.49,"type":"quantitative"},"y":{"field":"i","type":"quantitative"},"text":{"field":"k"}}},
  {"transform":[{"filter":"datum.k=='obs'"}],"mark":{"type":"text","align":"left","baseline":"alphabetic","dx":47.8,"dy":9,"fontSize":26},"encoding":{"x":{"datum":0.49,"type":"quantitative"},"y":{"field":"i","type":"quantitative"},"text":{"value":"(r)"}}},
  {"transform":[{"filter":"datum.k=='theo'"}],"mark":{"type":"text","align":"left","baseline":"alphabetic","dx":53.9,"dy":9,"fontSize":26},"encoding":{"x":{"datum":0.49,"type":"quantitative"},"y":{"field":"i","type":"quantitative"},"text":{"value":"(r)"}}},
  {"transform":[{"filter":"datum.k=='hi'||datum.k=='lo'"}],"mark":{"type":"text","align":"left","baseline":"alphabetic","dx":32.7,"dy":9,"fontSize":26},"encoding":{"x":{"datum":0.49,"type":"quantitative"},"y":{"field":"i","type":"quantitative"},"text":{"value":"(r)"}}}
 ]}
]},

{"width":286,"height":263,"title":"F-Function, no lines","resolve":{"scale":{"x":"independent","y":"independent"}},"layer":[
 {"encoding":{"x":{"field":"r","type":"quantitative","title":null,"scale":{"domain":[-2,52],"nice":false,"zero":false},"axis":{"values":[0,10,20,30,40,50]}}},"layer":[
  {"data":{"name":"env"},"mark":{"type":"area","color":"#bebebe","opacity":1},"encoding":{"y":{"field":"f1l","type":"quantitative","title":null,"scale":{"domain":[-0.0262,0.6815],"nice":false,"zero":false},"axis":{"values":[0,0.1,0.2,0.3,0.4,0.5,0.6],"format":".1f","labelExpr":"indexof(['0.0','0.2','0.4','0.6'],datum.label)>=0?datum.label:''"}},"y2":{"field":"f1h"}}},
  {"data":{"name":"env"},"mark":{"type":"line","color":"#bebebe","strokeWidth":2.5},"encoding":{"y":{"field":"f1h","type":"quantitative","title":null}}},
  {"data":{"name":"env"},"mark":{"type":"line","color":"#bebebe","strokeWidth":2.5},"encoding":{"y":{"field":"f1l","type":"quantitative","title":null}}},
  {"data":{"name":"env"},"mark":{"type":"line","color":"black","strokeWidth":2},"encoding":{"y":{"field":"fo","type":"quantitative","title":null}}},
  {"data":{"name":"env"},"mark":{"type":"line","color":"red","strokeWidth":2.5,"strokeDash":[12,10]},"encoding":{"y":{"field":"t1","type":"quantitative","title":null}}}
 ]},
 {"data":{"name":"leg"},"layer":[
  {"data":{"values":[{"b":1}]},"mark":{"type":"rect","filled":false,"color":"black","strokeWidth":1.5},"encoding":{"x":{"datum":0,"type":"quantitative","scale":{"domain":[-0.0619,1.4513],"nice":false,"zero":false},"axis":null},"x2":{"datum":1},"y":{"datum":-0.88,"type":"quantitative","scale":{"domain":[-1.0875,5.4875],"nice":false,"zero":false,"reverse":true},"axis":null},"y2":{"datum":3.9125}}},
  {"mark":{"type":"rule","strokeWidth":2.5},"encoding":{"x":{"datum":0.1164,"type":"quantitative"},"x2":{"datum":0.3667},"y":{"field":"i","type":"quantitative"},"color":{"field":"k","type":"nominal","scale":{"domain":["obs","theo","hi","lo"],"range":["black","red","#bebebe","#bebebe"]},"legend":null},"strokeDash":{"field":"k","type":"nominal","scale":{"domain":["obs","theo","hi","lo"],"range":[[1,0],[12,10],[1,0],[1,0]]},"legend":null}}},
  {"mark":{"type":"text","align":"left","baseline":"alphabetic","dy":9,"fontSize":26},"encoding":{"x":{"datum":0.49,"type":"quantitative"},"y":{"field":"i","type":"quantitative"},"text":{"value":"F"}}},
  {"mark":{"type":"text","align":"left","baseline":"alphabetic","dx":15.5,"dy":15,"fontSize":18.2},"encoding":{"x":{"datum":0.49,"type":"quantitative"},"y":{"field":"i","type":"quantitative"},"text":{"field":"k"}}},
  {"transform":[{"filter":"datum.k=='obs'"}],"mark":{"type":"text","align":"left","baseline":"alphabetic","dx":44.8,"dy":9,"fontSize":26},"encoding":{"x":{"datum":0.49,"type":"quantitative"},"y":{"field":"i","type":"quantitative"},"text":{"value":"(r)"}}},
  {"transform":[{"filter":"datum.k=='theo'"}],"mark":{"type":"text","align":"left","baseline":"alphabetic","dx":50.9,"dy":9,"fontSize":26},"encoding":{"x":{"datum":0.49,"type":"quantitative"},"y":{"field":"i","type":"quantitative"},"text":{"value":"(r)"}}},
  {"transform":[{"filter":"datum.k=='hi'||datum.k=='lo'"}],"mark":{"type":"text","align":"left","baseline":"alphabetic","dx":29.7,"dy":9,"fontSize":26},"encoding":{"x":{"datum":0.49,"type":"quantitative"},"y":{"field":"i","type":"quantitative"},"text":{"value":"(r)"}}}
 ]}
]},

{"width":286,"height":263,"title":"F-Function, one line","resolve":{"scale":{"x":"independent","y":"independent"}},"layer":[
 {"encoding":{"x":{"field":"r","type":"quantitative","title":null,"scale":{"domain":[-2,52],"nice":false,"zero":false},"axis":{"values":[0,10,20,30,40,50]}}},"layer":[
  {"data":{"name":"env"},"mark":{"type":"area","color":"#bebebe","opacity":1},"encoding":{"y":{"field":"f2l","type":"quantitative","title":null,"scale":{"domain":[-0.0349,0.9065],"nice":false,"zero":false},"axis":{"values":[0,0.2,0.4,0.6,0.8],"format":".1f","labelExpr":"indexof(['0.0','0.4','0.8'],datum.label)>=0?datum.label:''"}},"y2":{"field":"f2h"}}},
  {"data":{"name":"env"},"mark":{"type":"line","color":"#bebebe","strokeWidth":2.5},"encoding":{"y":{"field":"f2h","type":"quantitative","title":null}}},
  {"data":{"name":"env"},"mark":{"type":"line","color":"#bebebe","strokeWidth":2.5},"encoding":{"y":{"field":"f2l","type":"quantitative","title":null}}},
  {"data":{"name":"env"},"mark":{"type":"line","color":"black","strokeWidth":2},"encoding":{"y":{"field":"fo","type":"quantitative","title":null}}},
  {"data":{"name":"env"},"mark":{"type":"line","color":"red","strokeWidth":2.5,"strokeDash":[12,10]},"encoding":{"y":{"field":"t2","type":"quantitative","title":null}}}
 ]},
 {"data":{"name":"leg"},"layer":[
  {"data":{"values":[{"b":1}]},"mark":{"type":"rect","filled":false,"color":"black","strokeWidth":1.5},"encoding":{"x":{"datum":0,"type":"quantitative","scale":{"domain":[-0.0619,1.4513],"nice":false,"zero":false},"axis":null},"x2":{"datum":1},"y":{"datum":-0.88,"type":"quantitative","scale":{"domain":[-1.0875,5.4875],"nice":false,"zero":false,"reverse":true},"axis":null},"y2":{"datum":3.9125}}},
  {"mark":{"type":"rule","strokeWidth":2.5},"encoding":{"x":{"datum":0.1164,"type":"quantitative"},"x2":{"datum":0.3667},"y":{"field":"i","type":"quantitative"},"color":{"field":"k","type":"nominal","scale":{"domain":["obs","theo","hi","lo"],"range":["black","red","#bebebe","#bebebe"]},"legend":null},"strokeDash":{"field":"k","type":"nominal","scale":{"domain":["obs","theo","hi","lo"],"range":[[1,0],[12,10],[1,0],[1,0]]},"legend":null}}},
  {"mark":{"type":"text","align":"left","baseline":"alphabetic","dy":9,"fontSize":26},"encoding":{"x":{"datum":0.49,"type":"quantitative"},"y":{"field":"i","type":"quantitative"},"text":{"value":"F"}}},
  {"mark":{"type":"text","align":"left","baseline":"alphabetic","dx":15.5,"dy":15,"fontSize":18.2},"encoding":{"x":{"datum":0.49,"type":"quantitative"},"y":{"field":"i","type":"quantitative"},"text":{"field":"k"}}},
  {"transform":[{"filter":"datum.k=='obs'"}],"mark":{"type":"text","align":"left","baseline":"alphabetic","dx":44.8,"dy":9,"fontSize":26},"encoding":{"x":{"datum":0.49,"type":"quantitative"},"y":{"field":"i","type":"quantitative"},"text":{"value":"(r)"}}},
  {"transform":[{"filter":"datum.k=='theo'"}],"mark":{"type":"text","align":"left","baseline":"alphabetic","dx":50.9,"dy":9,"fontSize":26},"encoding":{"x":{"datum":0.49,"type":"quantitative"},"y":{"field":"i","type":"quantitative"},"text":{"value":"(r)"}}},
  {"transform":[{"filter":"datum.k=='hi'||datum.k=='lo'"}],"mark":{"type":"text","align":"left","baseline":"alphabetic","dx":29.7,"dy":9,"fontSize":26},"encoding":{"x":{"datum":0.49,"type":"quantitative"},"y":{"field":"i","type":"quantitative"},"text":{"value":"(r)"}}}
 ]}
]},

{"width":286,"height":263,"title":"F-Function, two lines","resolve":{"scale":{"x":"independent","y":"independent"}},"layer":[
 {"encoding":{"x":{"field":"r","type":"quantitative","title":null,"scale":{"domain":[-2,52],"nice":false,"zero":false},"axis":{"values":[0,10,20,30,40,50]}}},"layer":[
  {"data":{"name":"env"},"mark":{"type":"area","color":"#bebebe","opacity":1},"encoding":{"y":{"field":"f3l","type":"quantitative","title":null,"scale":{"domain":[-0.0383,0.9953],"nice":false,"zero":false},"axis":{"values":[0,0.2,0.4,0.6,0.8],"format":".1f","labelExpr":"indexof(['0.0','0.4','0.8'],datum.label)>=0?datum.label:''"}},"y2":{"field":"f3h"}}},
  {"data":{"name":"env"},"mark":{"type":"line","color":"#bebebe","strokeWidth":2.5},"encoding":{"y":{"field":"f3h","type":"quantitative","title":null}}},
  {"data":{"name":"env"},"mark":{"type":"line","color":"#bebebe","strokeWidth":2.5},"encoding":{"y":{"field":"f3l","type":"quantitative","title":null}}},
  {"data":{"name":"env"},"mark":{"type":"line","color":"black","strokeWidth":2},"encoding":{"y":{"field":"fo","type":"quantitative","title":null}}},
  {"data":{"name":"env"},"mark":{"type":"line","color":"red","strokeWidth":2.5,"strokeDash":[12,10]},"encoding":{"y":{"field":"t3","type":"quantitative","title":null}}}
 ]},
 {"data":{"name":"leg"},"layer":[
  {"data":{"values":[{"b":1}]},"mark":{"type":"rect","filled":false,"color":"black","strokeWidth":1.5},"encoding":{"x":{"datum":0,"type":"quantitative","scale":{"domain":[-0.0619,1.4513],"nice":false,"zero":false},"axis":null},"x2":{"datum":1},"y":{"datum":-0.88,"type":"quantitative","scale":{"domain":[-1.0875,5.4875],"nice":false,"zero":false,"reverse":true},"axis":null},"y2":{"datum":3.9125}}},
  {"mark":{"type":"rule","strokeWidth":2.5},"encoding":{"x":{"datum":0.1164,"type":"quantitative"},"x2":{"datum":0.3667},"y":{"field":"i","type":"quantitative"},"color":{"field":"k","type":"nominal","scale":{"domain":["obs","theo","hi","lo"],"range":["black","red","#bebebe","#bebebe"]},"legend":null},"strokeDash":{"field":"k","type":"nominal","scale":{"domain":["obs","theo","hi","lo"],"range":[[1,0],[12,10],[1,0],[1,0]]},"legend":null}}},
  {"mark":{"type":"text","align":"left","baseline":"alphabetic","dy":9,"fontSize":26},"encoding":{"x":{"datum":0.49,"type":"quantitative"},"y":{"field":"i","type":"quantitative"},"text":{"value":"F"}}},
  {"mark":{"type":"text","align":"left","baseline":"alphabetic","dx":15.5,"dy":15,"fontSize":18.2},"encoding":{"x":{"datum":0.49,"type":"quantitative"},"y":{"field":"i","type":"quantitative"},"text":{"field":"k"}}},
  {"transform":[{"filter":"datum.k=='obs'"}],"mark":{"type":"text","align":"left","baseline":"alphabetic","dx":44.8,"dy":9,"fontSize":26},"encoding":{"x":{"datum":0.49,"type":"quantitative"},"y":{"field":"i","type":"quantitative"},"text":{"value":"(r)"}}},
  {"transform":[{"filter":"datum.k=='theo'"}],"mark":{"type":"text","align":"left","baseline":"alphabetic","dx":50.9,"dy":9,"fontSize":26},"encoding":{"x":{"datum":0.49,"type":"quantitative"},"y":{"field":"i","type":"quantitative"},"text":{"value":"(r)"}}},
  {"transform":[{"filter":"datum.k=='hi'||datum.k=='lo'"}],"mark":{"type":"text","align":"left","baseline":"alphabetic","dx":29.7,"dy":9,"fontSize":26},"encoding":{"x":{"datum":0.49,"type":"quantitative"},"y":{"field":"i","type":"quantitative"},"text":{"value":"(r)"}}}
 ]}
]},

{"width":286,"height":263,"title":"K-Function, no lines","resolve":{"scale":{"x":"independent","y":"independent"}},"layer":[
 {"encoding":{"x":{"field":"r","type":"quantitative","title":null,"scale":{"domain":[-2,52],"nice":false,"zero":false},"axis":{"values":[0,10,20,30,40,50]}}},"layer":[
  {"data":{"name":"env"},"mark":{"type":"area","color":"#bebebe","opacity":1},"encoding":{"y":{"field":"k1l","type":"quantitative","title":null,"scale":{"domain":[-365,9499],"nice":false,"zero":false},"axis":{"values":[0,2000,4000,6000,8000],"format":"d","labelExpr":"datum.value==2000||datum.value==6000?'':datum.label"}},"y2":{"field":"k1h"}}},
  {"data":{"name":"env"},"mark":{"type":"line","color":"#bebebe","strokeWidth":2.5},"encoding":{"y":{"field":"k1h","type":"quantitative","title":null}}},
  {"data":{"name":"env"},"mark":{"type":"line","color":"#bebebe","strokeWidth":2.5},"encoding":{"y":{"field":"k1l","type":"quantitative","title":null}}},
  {"data":{"name":"k1o"},"mark":{"type":"line","color":"black","strokeWidth":2},"encoding":{"y":{"field":"v","type":"quantitative","title":null}}},
  {"data":{"name":"env"},"mark":{"type":"line","color":"red","strokeWidth":2.5,"strokeDash":[12,10]},"encoding":{"y":{"field":"kt","type":"quantitative","title":null}}}
 ]},
 {"data":{"name":"leg"},"layer":[
  {"data":{"values":[{"b":1}]},"mark":{"type":"rect","filled":false,"color":"black","strokeWidth":1.5},"encoding":{"x":{"datum":0,"type":"quantitative","scale":{"domain":[-0.0619,1.4513],"nice":false,"zero":false},"axis":null},"x2":{"datum":1},"y":{"datum":-0.88,"type":"quantitative","scale":{"domain":[-1.0875,5.4875],"nice":false,"zero":false,"reverse":true},"axis":null},"y2":{"datum":3.9125}}},
  {"mark":{"type":"rule","strokeWidth":2.5},"encoding":{"x":{"datum":0.1164,"type":"quantitative"},"x2":{"datum":0.3667},"y":{"field":"i","type":"quantitative"},"color":{"field":"k","type":"nominal","scale":{"domain":["obs","theo","hi","lo"],"range":["black","red","#bebebe","#bebebe"]},"legend":null},"strokeDash":{"field":"k","type":"nominal","scale":{"domain":["obs","theo","hi","lo"],"range":[[1,0],[12,10],[1,0],[1,0]]},"legend":null}}},
  {"mark":{"type":"text","align":"left","baseline":"alphabetic","dy":9,"fontSize":26},"encoding":{"x":{"datum":0.49,"type":"quantitative"},"y":{"field":"i","type":"quantitative"},"text":{"value":"K"}}},
  {"mark":{"type":"text","align":"left","baseline":"alphabetic","dx":17,"dy":15,"fontSize":18.2},"encoding":{"x":{"datum":0.49,"type":"quantitative"},"y":{"field":"i","type":"quantitative"},"text":{"field":"k"}}},
  {"transform":[{"filter":"datum.k=='obs'"}],"mark":{"type":"text","align":"left","baseline":"alphabetic","dx":46.3,"dy":9,"fontSize":26},"encoding":{"x":{"datum":0.49,"type":"quantitative"},"y":{"field":"i","type":"quantitative"},"text":{"value":"(r)"}}},
  {"transform":[{"filter":"datum.k=='theo'"}],"mark":{"type":"text","align":"left","baseline":"alphabetic","dx":52.4,"dy":9,"fontSize":26},"encoding":{"x":{"datum":0.49,"type":"quantitative"},"y":{"field":"i","type":"quantitative"},"text":{"value":"(r)"}}},
  {"transform":[{"filter":"datum.k=='hi'||datum.k=='lo'"}],"mark":{"type":"text","align":"left","baseline":"alphabetic","dx":31.2,"dy":9,"fontSize":26},"encoding":{"x":{"datum":0.49,"type":"quantitative"},"y":{"field":"i","type":"quantitative"},"text":{"value":"(r)"}}}
 ]}
]},

{"width":286,"height":263,"title":"K-Function, one line","resolve":{"scale":{"x":"independent","y":"independent"}},"layer":[
 {"encoding":{"x":{"field":"r","type":"quantitative","title":null,"scale":{"domain":[-2,52],"nice":false,"zero":false},"axis":{"values":[0,10,20,30,40,50]}}},"layer":[
  {"data":{"name":"env"},"mark":{"type":"area","color":"#bebebe","opacity":1},"encoding":{"y":{"field":"k2l","type":"quantitative","title":null,"scale":{"domain":[-7568,196768],"nice":false,"zero":false},"axis":{"values":[0,50000,100000,150000],"format":"d","labelExpr":"datum.value==100000?'':datum.label"}},"y2":{"field":"k2h"}}},
  {"data":{"name":"env"},"mark":{"type":"line","color":"#bebebe","strokeWidth":2.5},"encoding":{"y":{"field":"k2h","type":"quantitative","title":null}}},
  {"data":{"name":"env"},"mark":{"type":"line","color":"#bebebe","strokeWidth":2.5},"encoding":{"y":{"field":"k2l","type":"quantitative","title":null}}},
  {"data":{"name":"k2o"},"mark":{"type":"line","color":"black","strokeWidth":2},"encoding":{"y":{"field":"v","type":"quantitative","title":null}}},
  {"data":{"name":"env"},"mark":{"type":"line","color":"red","strokeWidth":2.5,"strokeDash":[12,10]},"encoding":{"y":{"field":"kt","type":"quantitative","title":null}}}
 ]},
 {"data":{"name":"leg"},"layer":[
  {"data":{"values":[{"b":1}]},"mark":{"type":"rect","filled":false,"color":"black","strokeWidth":1.5},"encoding":{"x":{"datum":0,"type":"quantitative","scale":{"domain":[-0.0619,1.4513],"nice":false,"zero":false},"axis":null},"x2":{"datum":1},"y":{"datum":-0.88,"type":"quantitative","scale":{"domain":[-1.0875,5.4875],"nice":false,"zero":false,"reverse":true},"axis":null},"y2":{"datum":3.9125}}},
  {"mark":{"type":"rule","strokeWidth":2.5},"encoding":{"x":{"datum":0.1164,"type":"quantitative"},"x2":{"datum":0.3667},"y":{"field":"i","type":"quantitative"},"color":{"field":"k","type":"nominal","scale":{"domain":["obs","theo","hi","lo"],"range":["black","red","#bebebe","#bebebe"]},"legend":null},"strokeDash":{"field":"k","type":"nominal","scale":{"domain":["obs","theo","hi","lo"],"range":[[1,0],[12,10],[1,0],[1,0]]},"legend":null}}},
  {"mark":{"type":"text","align":"left","baseline":"alphabetic","dy":9,"fontSize":26},"encoding":{"x":{"datum":0.49,"type":"quantitative"},"y":{"field":"i","type":"quantitative"},"text":{"value":"K"}}},
  {"mark":{"type":"text","align":"left","baseline":"alphabetic","dx":17,"dy":15,"fontSize":18.2},"encoding":{"x":{"datum":0.49,"type":"quantitative"},"y":{"field":"i","type":"quantitative"},"text":{"field":"k"}}},
  {"transform":[{"filter":"datum.k=='obs'"}],"mark":{"type":"text","align":"left","baseline":"alphabetic","dx":46.3,"dy":9,"fontSize":26},"encoding":{"x":{"datum":0.49,"type":"quantitative"},"y":{"field":"i","type":"quantitative"},"text":{"value":"(r)"}}},
  {"transform":[{"filter":"datum.k=='theo'"}],"mark":{"type":"text","align":"left","baseline":"alphabetic","dx":52.4,"dy":9,"fontSize":26},"encoding":{"x":{"datum":0.49,"type":"quantitative"},"y":{"field":"i","type":"quantitative"},"text":{"value":"(r)"}}},
  {"transform":[{"filter":"datum.k=='hi'||datum.k=='lo'"}],"mark":{"type":"text","align":"left","baseline":"alphabetic","dx":31.2,"dy":9,"fontSize":26},"encoding":{"x":{"datum":0.49,"type":"quantitative"},"y":{"field":"i","type":"quantitative"},"text":{"value":"(r)"}}}
 ]}
]},

{"width":286,"height":263,"title":"K-Function, two lines","resolve":{"scale":{"x":"independent","y":"independent"}},"layer":[
 {"encoding":{"x":{"field":"r","type":"quantitative","title":null,"scale":{"domain":[-2,52],"nice":false,"zero":false},"axis":{"values":[0,10,20,30,40,50]}}},"layer":[
  {"data":{"name":"env"},"mark":{"type":"area","color":"#bebebe","opacity":1},"encoding":{"y":{"field":"k2l","type":"quantitative","title":null,"scale":{"domain":[-6760,175760],"nice":false,"zero":false},"axis":{"values":[0,50000,100000,150000],"format":"d","labelExpr":"datum.value==100000?'':datum.label"}},"y2":{"field":"k2h"}}},
  {"data":{"name":"env"},"mark":{"type":"line","color":"#bebebe","strokeWidth":2.5},"encoding":{"y":{"field":"k2h","type":"quantitative","title":null}}},
  {"data":{"name":"env"},"mark":{"type":"line","color":"#bebebe","strokeWidth":2.5},"encoding":{"y":{"field":"k2l","type":"quantitative","title":null}}},
  {"data":{"name":"k3o"},"mark":{"type":"line","color":"black","strokeWidth":2},"encoding":{"y":{"field":"v","type":"quantitative","title":null}}},
  {"data":{"name":"env"},"mark":{"type":"line","color":"red","strokeWidth":2.5,"strokeDash":[12,10]},"encoding":{"y":{"field":"kt","type":"quantitative","title":null}}}
 ]},
 {"data":{"name":"leg"},"layer":[
  {"data":{"values":[{"b":1}]},"mark":{"type":"rect","filled":false,"color":"black","strokeWidth":1.5},"encoding":{"x":{"datum":0,"type":"quantitative","scale":{"domain":[-0.0619,1.4513],"nice":false,"zero":false},"axis":null},"x2":{"datum":1},"y":{"datum":-0.88,"type":"quantitative","scale":{"domain":[-1.0875,5.4875],"nice":false,"zero":false,"reverse":true},"axis":null},"y2":{"datum":3.9125}}},
  {"mark":{"type":"rule","strokeWidth":2.5},"encoding":{"x":{"datum":0.1164,"type":"quantitative"},"x2":{"datum":0.3667},"y":{"field":"i","type":"quantitative"},"color":{"field":"k","type":"nominal","scale":{"domain":["obs","theo","hi","lo"],"range":["black","red","#bebebe","#bebebe"]},"legend":null},"strokeDash":{"field":"k","type":"nominal","scale":{"domain":["obs","theo","hi","lo"],"range":[[1,0],[12,10],[1,0],[1,0]]},"legend":null}}},
  {"mark":{"type":"text","align":"left","baseline":"alphabetic","dy":9,"fontSize":26},"encoding":{"x":{"datum":0.49,"type":"quantitative"},"y":{"field":"i","type":"quantitative"},"text":{"value":"K"}}},
  {"mark":{"type":"text","align":"left","baseline":"alphabetic","dx":17,"dy":15,"fontSize":18.2},"encoding":{"x":{"datum":0.49,"type":"quantitative"},"y":{"field":"i","type":"quantitative"},"text":{"field":"k"}}},
  {"transform":[{"filter":"datum.k=='obs'"}],"mark":{"type":"text","align":"left","baseline":"alphabetic","dx":46.3,"dy":9,"fontSize":26},"encoding":{"x":{"datum":0.49,"type":"quantitative"},"y":{"field":"i","type":"quantitative"},"text":{"value":"(r)"}}},
  {"transform":[{"filter":"datum.k=='theo'"}],"mark":{"type":"text","align":"left","baseline":"alphabetic","dx":52.4,"dy":9,"fontSize":26},"encoding":{"x":{"datum":0.49,"type":"quantitative"},"y":{"field":"i","type":"quantitative"},"text":{"value":"(r)"}}},
  {"transform":[{"filter":"datum.k=='hi'||datum.k=='lo'"}],"mark":{"type":"text","align":"left","baseline":"alphabetic","dx":31.2,"dy":9,"fontSize":26},"encoding":{"x":{"datum":0.49,"type":"quantitative"},"y":{"field":"i","type":"quantitative"},"text":{"value":"(r)"}}}
 ]}
]}
]
}
